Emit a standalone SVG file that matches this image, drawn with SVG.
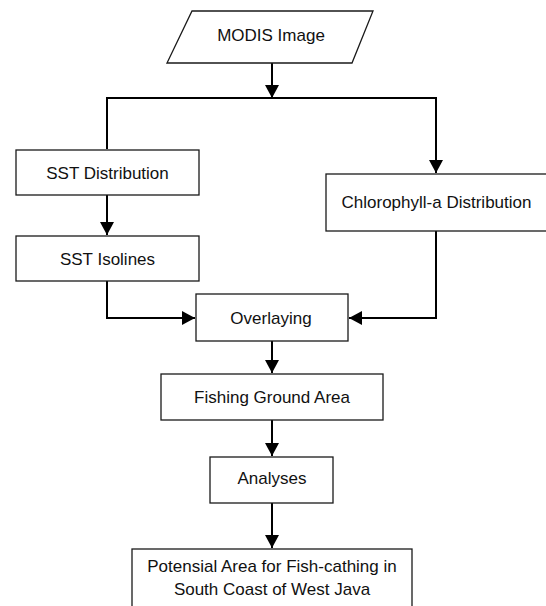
<svg xmlns="http://www.w3.org/2000/svg" width="546" height="606" viewBox="0 0 546 606">
  <style>
    .box { fill: #ffffff; stroke: #1a1a1a; stroke-width: 1.3; }
    .lbl { font-family: "Liberation Sans", Arial, sans-serif; font-size: 17px; fill: #111111; text-anchor: middle; }
    .wire { fill: none; stroke: #000000; stroke-width: 2; }
  </style>
  <defs>
    <marker id="head" viewBox="0 0 13 14" refX="13" refY="7" markerWidth="13" markerHeight="14" markerUnits="userSpaceOnUse" orient="auto">
      <path d="M0,0 L13,7 L0,14 Z" fill="#000000"/>
    </marker>
  </defs>
  <rect width="546" height="606" fill="#ffffff"/>

  <!-- connectors -->
  <g id="connectors">
    <line class="wire" x1="272" y1="63" x2="272" y2="98" marker-end="url(#head)"/>
    <polyline class="wire" points="107,149 107,98 436,98 436,173" marker-end="url(#head)"/>
    <line class="wire" x1="107" y1="195" x2="107" y2="235" marker-end="url(#head)"/>
    <polyline class="wire" points="107,281 107,318 195,318" marker-end="url(#head)"/>
    <polyline class="wire" points="436,231 436,318 349,318" marker-end="url(#head)"/>
    <line class="wire" x1="272" y1="341" x2="272" y2="373" marker-end="url(#head)"/>
    <line class="wire" x1="272" y1="420" x2="272" y2="456" marker-end="url(#head)"/>
    <line class="wire" x1="272" y1="503" x2="272" y2="548" marker-end="url(#head)"/>
  </g>

  <g id="modis">
    <polygon class="box" points="192,11 373,11 352,63 167,63"/>
    <text class="lbl" x="271" y="41">MODIS Image</text>
  </g>
  <g id="sst-distribution">
    <rect class="box" x="16" y="150" width="183" height="45"/>
    <text class="lbl" x="107.5" y="179">SST Distribution</text>
  </g>
  <g id="sst-isolines">
    <rect class="box" x="16" y="236" width="183" height="45"/>
    <text class="lbl" x="107.5" y="265">SST Isolines</text>
  </g>
  <g id="chlorophyll">
    <rect class="box" x="326" y="174" width="225" height="57"/>
    <text class="lbl" x="436.5" y="208">Chlorophyll-a Distribution</text>
  </g>
  <g id="overlaying">
    <rect class="box" x="196" y="294" width="152" height="47"/>
    <text class="lbl" x="271" y="324">Overlaying</text>
  </g>
  <g id="fishing-ground">
    <rect class="box" x="161" y="374" width="222" height="46"/>
    <text class="lbl" x="272" y="403">Fishing Ground Area</text>
  </g>
  <g id="analyses">
    <rect class="box" x="210" y="457" width="123" height="46"/>
    <text class="lbl" x="272" y="484">Analyses</text>
  </g>
  <g id="potential-area">
    <rect class="box" x="132" y="549" width="280" height="70"/>
    <text class="lbl" x="272" y="572">Potensial Area for Fish-cathing in</text>
    <text class="lbl" x="272" y="595">South Coast of West Java</text>
  </g>
</svg>
